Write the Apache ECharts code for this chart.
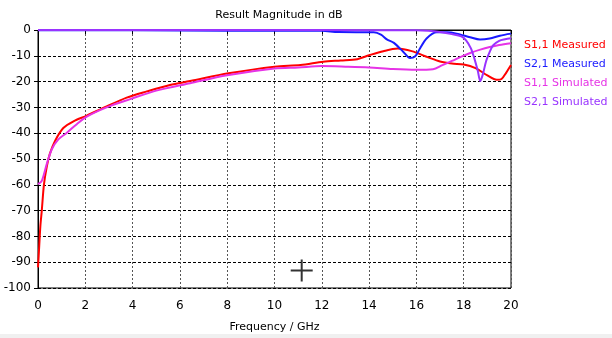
<!DOCTYPE html>
<html>
<head>
<meta charset="utf-8">
<script src="https://cdn.jsdelivr.net/npm/echarts@6/dist/echarts.min.js"></script>
<style>
  html, body { margin: 0; padding: 0; background: #fff; }
  #chart { width: 612px; height: 338px; }
</style>
</head>
<body>
<div id="chart"></div>
<script>
// S1,1 measured
const s11MeasFreq = [0, 0.05, 0.1, 0.16, 0.25, 0.37, 0.5, 0.72, 1.07, 1.5, 2.06, 2.9, 3.75, 4.6, 5.58, 6.43, 8.05, 10.0, 11.1, 12.06, 12.8, 13.5, 14.0, 14.6, 15.2, 15.8, 16.5, 17.0, 17.5, 18.0, 18.5, 19.0, 19.4, 19.6, 19.8, 20];
const s11MeasDb = [-92, -84, -76, -70, -60, -53, -48, -43, -38, -35.4, -33.2, -29.6, -26.2, -23.8, -21.3, -19.8, -16.8, -14.2, -13.6, -12.3, -11.8, -11.3, -9.8, -8.2, -7.2, -8.2, -10.6, -12.2, -13.0, -13.4, -14.8, -17.6, -19.3, -19.0, -16.5, -13.6];

// S2,1 measured
const s21MeasFreq = [0, 4, 8, 10, 12, 12.7, 14.2, 14.5, 14.75, 15.05, 15.45, 15.73, 15.95, 16.15, 16.43, 16.86, 17.3, 17.7, 18.27, 18.69, 19.1, 19.53, 20];
const s21MeasDb = [-0.1, -0.1, -0.3, -0.2, -0.3, -0.8, -0.9, -1.8, -3.6, -5.0, -8.5, -10.9, -10.2, -7.2, -3.3, -0.9, -0.9, -1.4, -2.8, -3.7, -3.3, -2.2, -1.4];

// S1,1 simulated
const s11SimFreq = [0, 0.16, 0.37, 0.58, 0.86, 1.21, 1.64, 2.06, 2.9, 3.9, 5, 6.43, 8, 10, 11, 12, 13, 14, 15, 16, 16.7, 17.1, 17.5, 17.9, 18.3, 18.7, 19.1, 19.5, 20];
const s11SimDb = [-59.7, -58.5, -52, -46.3, -42.4, -39.9, -36.5, -33.6, -30, -26.8, -23.5, -20.6, -17.5, -14.9, -14.5, -14.0, -14.2, -14.5, -15.1, -15.4, -15.2, -13.6, -12, -10.3, -8.8, -7.6, -6.6, -5.8, -5.1];

// S2,1 simulated
const s21SimFreq = [0, 5, 10, 14, 16, 16.5, 17, 17.5, 17.9, 18.1, 18.3, 18.45, 18.6, 18.7, 18.8, 18.95, 19.1, 19.25, 19.5, 19.75, 20];
const s21SimDb = [0, 0, 0, -0.05, -0.1, -0.3, -0.8, -1.6, -2.5, -4, -7, -11, -16, -19.8, -17.5, -12, -8.5, -5.9, -4.2, -3.6, -3.2];

// cursor cross shown on the plot
const cursorMark = [[11.15, -93.2]];

const xTicks = { min: 0, max: 20, step: 2 };
const yTicks = { min: -100, max: 0, step: 10 };

const seriesNames = ['S1,1 Measured', 'S2,1 Measured', 'S1,1 Simulated', 'S2,1 Simulated'];
const seriesColors = ['#ff0000', '#1a1aff', '#e633e6', '#9933ff'];

const pairs = (fs, vs) => fs.map((f, i) => [f, vs[i]]);
const curves = [
  pairs(s11MeasFreq, s11MeasDb),
  pairs(s21MeasFreq, s21MeasDb),
  pairs(s11SimFreq, s11SimDb),
  pairs(s21SimFreq, s21SimDb)
];

const font = 'DejaVu Sans';
const chart = echarts.init(document.getElementById('chart'), null, { renderer: 'canvas' });

chart.setOption({
  animation: false,
  backgroundColor: '#fff',
  title: {
    text: 'Result Magnitude in dB',
    left: 274, top: 5,
    textAlign: 'center',
    textStyle: { fontFamily: font, fontSize: 11, fontWeight: 'normal', color: '#000' }
  },
  grid: {
    left: 38, right: 101, top: 30, bottom: 48,
    show: true, borderColor: '#000', borderWidth: 1,
    containLabel: false
  },
  legend: {
    orient: 'vertical',
    left: 519, top: 35,
    itemWidth: 0, itemHeight: 0,
    itemGap: 8,
    icon: 'rect',
    selectedMode: false,
    data: seriesNames.map((n, i) => ({ name: n, textStyle: { color: seriesColors[i] } })),
    textStyle: { fontFamily: font, fontSize: 11, padding: [0, 0, 0, -5] }
  },
  xAxis: {
    type: 'value',
    min: xTicks.min, max: xTicks.max, interval: xTicks.step,
    name: 'Frequency / GHz',
    nameLocation: 'middle',
    nameGap: 34,
    nameTextStyle: { fontFamily: font, fontSize: 11, color: '#000' },
    axisLine: { lineStyle: { color: '#000', width: 1 } },
    axisTick: { show: true, length: 4, lineStyle: { color: '#000' } },
    axisLabel: { fontFamily: font, fontSize: 12, color: '#000', margin: 12 },
    splitLine: { show: true, lineStyle: { color: '#555', type: [2, 2], width: 1 } }
  },
  yAxis: {
    type: 'value',
    min: yTicks.min, max: yTicks.max, interval: yTicks.step,
    axisLine: { show: true, lineStyle: { color: '#000', width: 1 } },
    axisTick: { show: true, length: 4, lineStyle: { color: '#000' } },
    axisLabel: { fontFamily: font, fontSize: 12, color: '#000', margin: 7 },
    splitLine: { show: true, lineStyle: { color: '#000', type: [3, 2], width: 1 } }
  },
  series: curves.map((d, i) => ({
    name: seriesNames[i],
    type: 'line',
    data: d,
    symbol: 'none',
    smooth: 0.3,
    clip: true,
    lineStyle: { color: seriesColors[i], width: 2 },
    itemStyle: { color: seriesColors[i] },
    z: 3 + i
  })).concat([{
    name: 'cursor',
    type: 'scatter',
    data: cursorMark,
    symbol: 'path://M10,0h2v22h-2zM0,10h22v2h-22z',
    symbolSize: 22,
    itemStyle: { color: '#000' },
    silent: true,
    z: 10
  }]),
  graphic: [{
    type: 'rect',
    shape: { x: 0, y: 334, width: 612, height: 4 },
    style: { fill: '#f0f0f0' },
    silent: true
  }]
});
</script>
</body>
</html>
